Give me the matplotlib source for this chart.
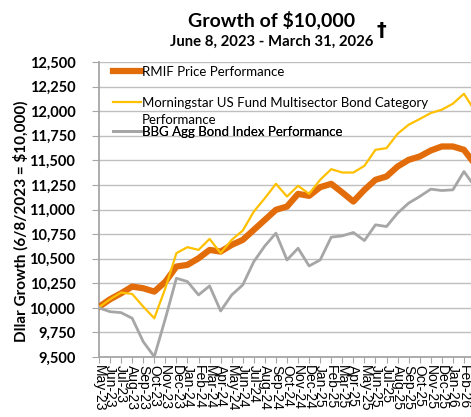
import numpy as np
import matplotlib
matplotlib.use('Agg')
import matplotlib.pyplot as plt
from matplotlib.lines import Line2D
from matplotlib.ticker import FuncFormatter

plt.rcParams['font.family'] = ['Lato', 'DejaVu Sans']

# Month labels on the x axis
months = ['May-23', 'Jun-23', 'Jul-23', 'Aug-23', 'Sep-23', 'Oct-23', 'Nov-23', 'Dec-23',
          'Jan-24', 'Feb-24', 'Mar-24', 'Apr-24', 'May-24', 'Jun-24', 'Jul-24', 'Aug-24',
          'Sep-24', 'Oct-24', 'Nov-24', 'Dec-24', 'Jan-25', 'Feb-25', 'Mar-25', 'Apr-25',
          'May-25', 'Jun-25', 'Jul-25', 'Aug-25', 'Sep-25', 'Oct-25', 'Nov-25', 'Dec-25',
          'Jan-26', 'Feb-26', 'Mar-26']

# Growth of $10,000 for each series
rmif = [10010, 10087, 10148, 10216, 10199, 10165, 10265, 10420, 10437, 10504, 10589, 10572,
        10640, 10691, 10793, 10895, 10997, 11030, 11159, 11139, 11227, 11261, 11173, 11081,
        11200, 11302, 11336, 11437, 11505, 11539, 11600, 11641, 11641, 11607, 11460]
morningstar = [10005, 10087, 10155, 10141, 10012, 9894, 10200, 10556, 10617, 10589, 10701, 10556,
               10691, 10786, 10979, 11115, 11261, 11132, 11241, 11159, 11302, 11410, 11376, 11376,
               11444, 11607, 11624, 11770, 11862, 11920, 11981, 12015, 12076, 12177, 12000]
bbg = [10000, 9961, 9951, 9894, 9656, 9503, 9890, 10301, 10267, 10131, 10223, 9968,
       10131, 10233, 10470, 10630, 10759, 10487, 10606, 10426, 10487, 10719, 10732, 10766,
       10684, 10844, 10827, 10963, 11065, 11132, 11207, 11193, 11200, 11386, 11230]

y_ticks = list(range(9500, 12501, 250))

fig = plt.figure(figsize=(4.71, 4.17), dpi=100)
ax = fig.add_axes([99 / 471, 1 - 357 / 417, 376 / 471, 295 / 417])

x = np.arange(len(months))
l1, = ax.plot(x, rmif, color='#E36C0A', lw=4.5, zorder=3, solid_joinstyle='round')
l2, = ax.plot(x, morningstar, color='#FFC000', lw=1.6, zorder=4)
l3, = ax.plot(x, bbg, color='#A6A6A6', lw=2.0, zorder=5)

ax.set_xlim(0, len(months) - 1)
ax.set_ylim(9500, 12500)
ax.set_yticks(y_ticks)
ax.yaxis.set_major_formatter(FuncFormatter(lambda v, p: '{:,.0f}'.format(v)))
ax.set_xticks(x)
ax.set_xticklabels(months, rotation=-90, fontsize=10, family='Liberation Sans',
                   ha='center', va='top')

ax.grid(axis='y', color='#BFBFBF', lw=1.0)
ax.set_axisbelow(True)
for s in ['top', 'right']:
    ax.spines[s].set_visible(False)
for s in ['left', 'bottom']:
    ax.spines[s].set_color('#A6A6A6')
    ax.spines[s].set_linewidth(1.3)

ax.tick_params(axis='y', direction='out', length=5, color='#A6A6A6', pad=12,
               labelsize=10.5, labelcolor='black')
for t in ax.get_yticklabels():
    t.set_fontweight('bold')
ax.tick_params(axis='x', direction='out', length=4, color='#A6A6A6', pad=2, labelcolor='black')

# legend: one row per legend so the rows sit where the original has them
blank = Line2D([], [], color='none')
rows = [(l1, 'RMIF Price Performance', 0.966),
        (l2, 'Morningstar US Fund Multisector Bond Category', 0.861),
        (blank, 'Performance', 0.803),
        (l3, 'BBG Agg Bond Index Performance', 0.764)]
for h, lab, yy in rows:
    leg = ax.legend([h], [lab], loc='center left', bbox_to_anchor=(0.037, yy), frameon=False,
                    fontsize=9.5, handlelength=2.15, handletextpad=0.05,
                    borderpad=0, borderaxespad=0)
    ax.add_artist(leg)

fig.text(272 / 471, 1 - 20 / 417, 'Growth of \\$10,000', ha='center', va='center',
         fontsize=14, fontweight='bold')
fig.text(272 / 471, 1 - 42 / 417, 'June 8, 2023 - March 31, 2026', ha='center', va='center',
         fontsize=10.7, fontweight='bold')
fig.text(381 / 471, 1 - 30 / 417, '\u2020', ha='center', va='center',
         fontsize=14, fontweight='bold', family=['DejaVu Sans'])
fig.text(21 / 471, 1 - 221 / 417, 'Dllar Growth (6/8/2023 = \\$10,000)', rotation=90,
         ha='center', va='center', fontsize=11, fontweight='bold')

fig.savefig('out.png', dpi=100)
